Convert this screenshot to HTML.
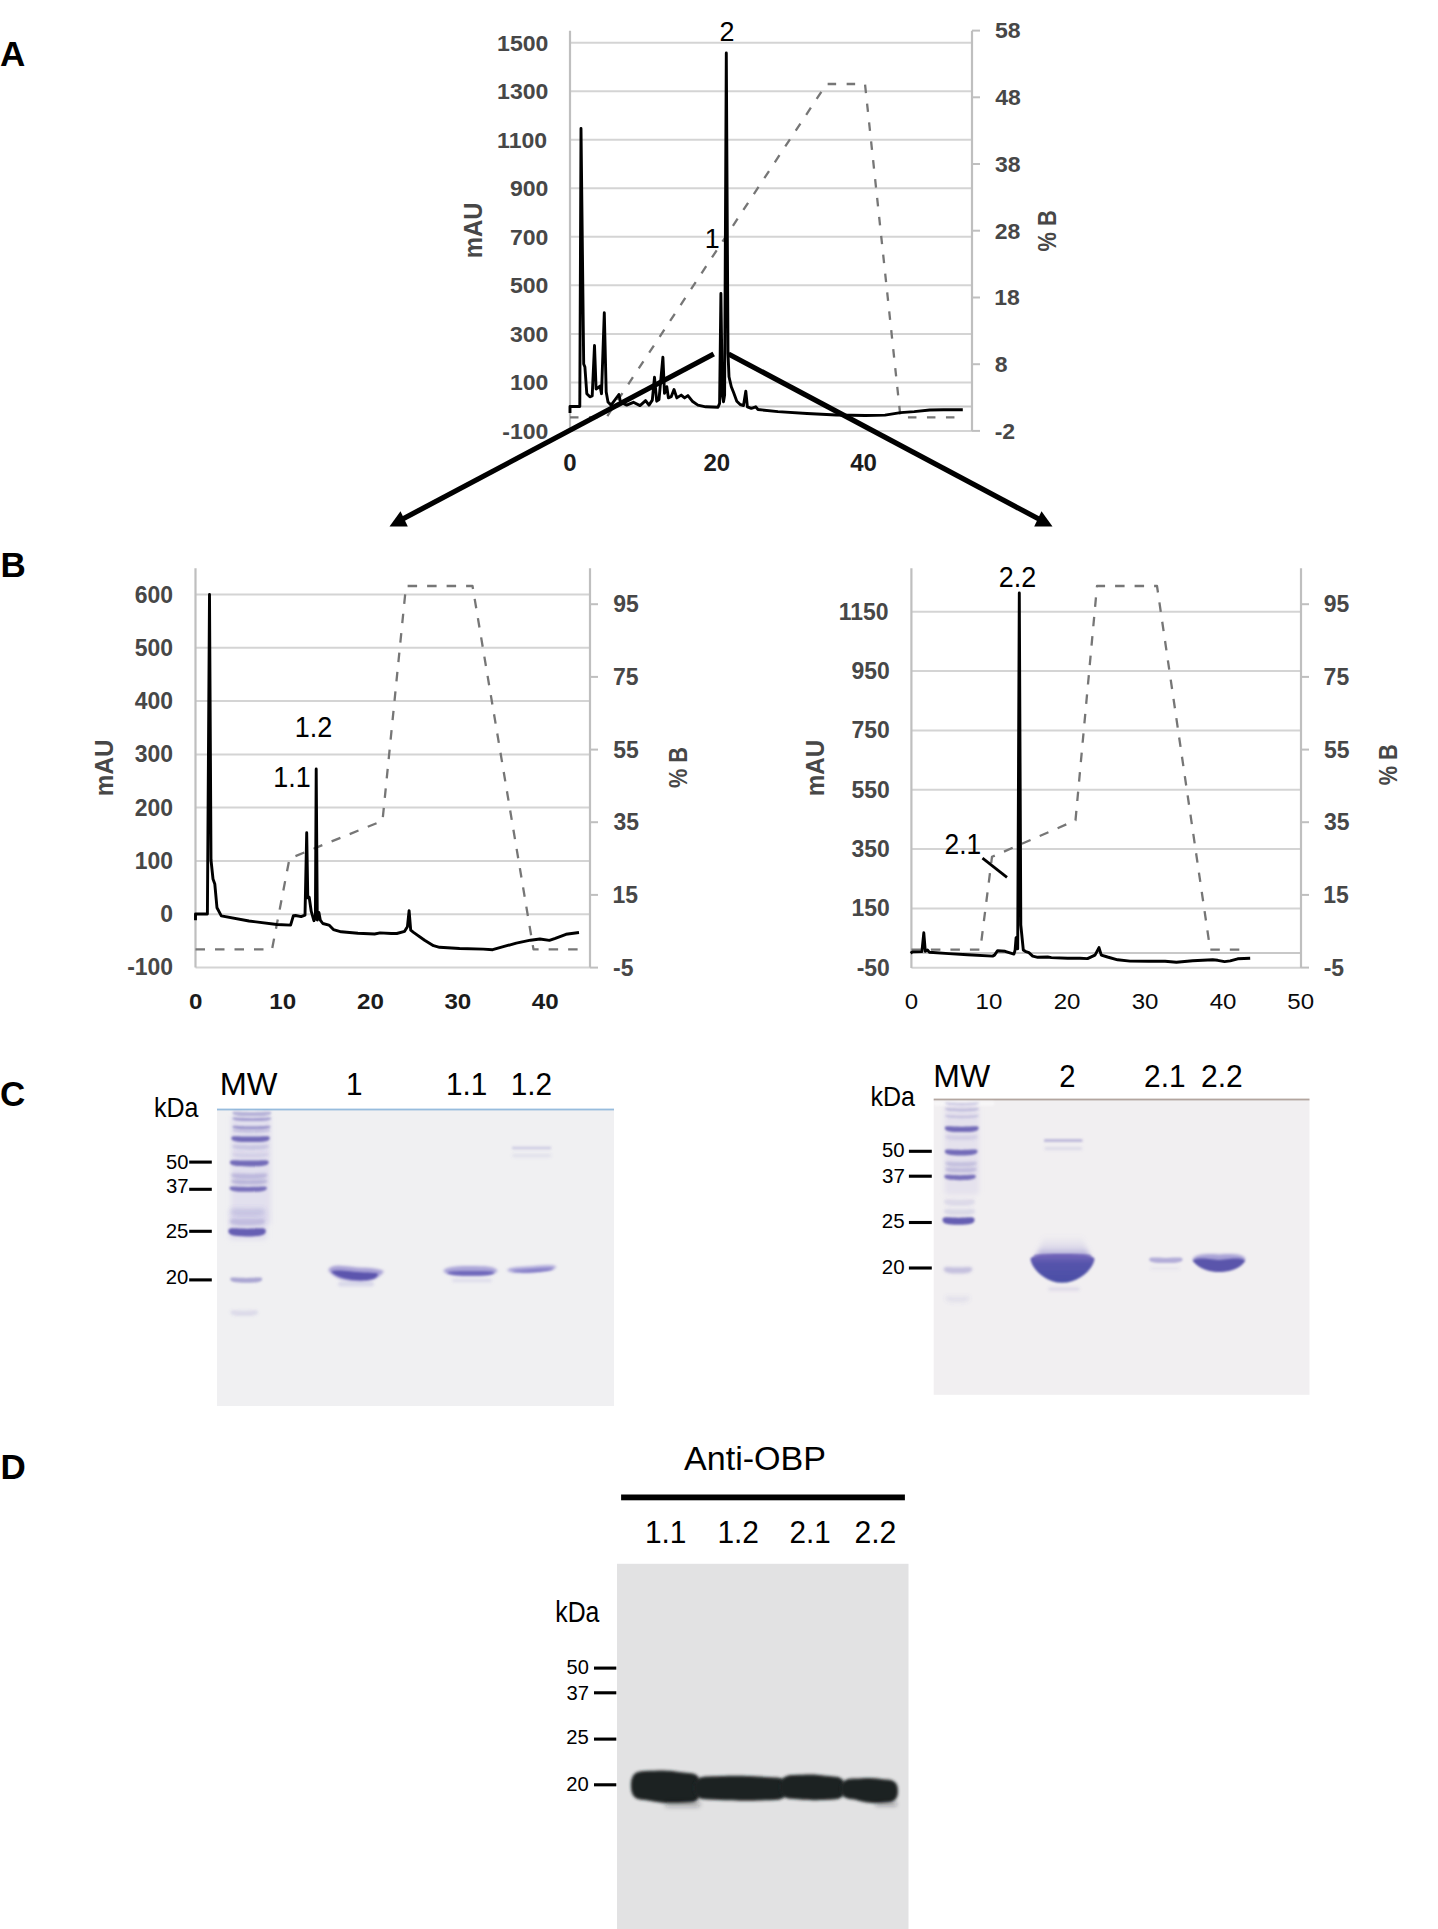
<!DOCTYPE html><html><head><meta charset="utf-8"><style>html,body{margin:0;padding:0;background:#fff;}body{width:1438px;height:1929px;overflow:hidden}svg{display:block}text{font-family:"Liberation Sans",sans-serif}</style></head><body>
<svg width="1438" height="1929" viewBox="0 0 1438 1929">
<defs><filter id="b1" x="-50%" y="-50%" width="200%" height="200%"><feGaussianBlur stdDeviation="1"/></filter><filter id="b2" x="-50%" y="-50%" width="200%" height="200%"><feGaussianBlur stdDeviation="2"/></filter><filter id="b3" x="-50%" y="-50%" width="200%" height="200%"><feGaussianBlur stdDeviation="3"/></filter><filter id="b4" x="-50%" y="-50%" width="200%" height="200%"><feGaussianBlur stdDeviation="4"/></filter></defs>
<rect width="1438" height="1929" fill="#fff"/>
<defs><filter id="g1" x="-50%" y="-600%" width="200%" height="1300%"><feGaussianBlur stdDeviation="0.1"/></filter><filter id="g2" x="-50%" y="-600%" width="200%" height="1300%"><feGaussianBlur stdDeviation="0.2"/></filter><filter id="g3" x="-50%" y="-600%" width="200%" height="1300%"><feGaussianBlur stdDeviation="0.3"/></filter><filter id="g4" x="-50%" y="-600%" width="200%" height="1300%"><feGaussianBlur stdDeviation="0.4"/></filter><filter id="g5" x="-50%" y="-600%" width="200%" height="1300%"><feGaussianBlur stdDeviation="0.5"/></filter><filter id="g6" x="-50%" y="-600%" width="200%" height="1300%"><feGaussianBlur stdDeviation="0.6"/></filter><filter id="g7" x="-50%" y="-600%" width="200%" height="1300%"><feGaussianBlur stdDeviation="0.7"/></filter><filter id="g8" x="-50%" y="-600%" width="200%" height="1300%"><feGaussianBlur stdDeviation="0.8"/></filter><filter id="g9" x="-50%" y="-600%" width="200%" height="1300%"><feGaussianBlur stdDeviation="0.9"/></filter><filter id="g10" x="-50%" y="-600%" width="200%" height="1300%"><feGaussianBlur stdDeviation="1.0"/></filter><filter id="g11" x="-50%" y="-600%" width="200%" height="1300%"><feGaussianBlur stdDeviation="1.1"/></filter><filter id="g12" x="-50%" y="-600%" width="200%" height="1300%"><feGaussianBlur stdDeviation="1.2"/></filter><filter id="g13" x="-50%" y="-600%" width="200%" height="1300%"><feGaussianBlur stdDeviation="1.3"/></filter><filter id="g14" x="-50%" y="-600%" width="200%" height="1300%"><feGaussianBlur stdDeviation="1.4"/></filter><filter id="g15" x="-50%" y="-600%" width="200%" height="1300%"><feGaussianBlur stdDeviation="1.5"/></filter><filter id="g16" x="-50%" y="-600%" width="200%" height="1300%"><feGaussianBlur stdDeviation="1.6"/></filter><filter id="g17" x="-50%" y="-600%" width="200%" height="1300%"><feGaussianBlur stdDeviation="1.7"/></filter><filter id="g18" x="-50%" y="-600%" width="200%" height="1300%"><feGaussianBlur stdDeviation="1.8"/></filter><filter id="g19" x="-50%" y="-600%" width="200%" height="1300%"><feGaussianBlur stdDeviation="1.9"/></filter><filter id="g20" x="-50%" y="-600%" width="200%" height="1300%"><feGaussianBlur stdDeviation="2.0"/></filter><filter id="g21" x="-50%" y="-600%" width="200%" height="1300%"><feGaussianBlur stdDeviation="2.1"/></filter><filter id="g22" x="-50%" y="-600%" width="200%" height="1300%"><feGaussianBlur stdDeviation="2.2"/></filter><filter id="g23" x="-50%" y="-600%" width="200%" height="1300%"><feGaussianBlur stdDeviation="2.3"/></filter><filter id="g24" x="-50%" y="-600%" width="200%" height="1300%"><feGaussianBlur stdDeviation="2.4"/></filter><filter id="g25" x="-50%" y="-600%" width="200%" height="1300%"><feGaussianBlur stdDeviation="2.5"/></filter><filter id="g26" x="-50%" y="-600%" width="200%" height="1300%"><feGaussianBlur stdDeviation="2.6"/></filter><filter id="g27" x="-50%" y="-600%" width="200%" height="1300%"><feGaussianBlur stdDeviation="2.7"/></filter><filter id="g28" x="-50%" y="-600%" width="200%" height="1300%"><feGaussianBlur stdDeviation="2.8"/></filter><filter id="g29" x="-50%" y="-600%" width="200%" height="1300%"><feGaussianBlur stdDeviation="2.9"/></filter><filter id="g30" x="-50%" y="-600%" width="200%" height="1300%"><feGaussianBlur stdDeviation="3.0"/></filter><filter id="g31" x="-50%" y="-600%" width="200%" height="1300%"><feGaussianBlur stdDeviation="3.1"/></filter><filter id="g32" x="-50%" y="-600%" width="200%" height="1300%"><feGaussianBlur stdDeviation="3.2"/></filter><filter id="g33" x="-50%" y="-600%" width="200%" height="1300%"><feGaussianBlur stdDeviation="3.3"/></filter><filter id="g34" x="-50%" y="-600%" width="200%" height="1300%"><feGaussianBlur stdDeviation="3.4"/></filter><filter id="g35" x="-50%" y="-600%" width="200%" height="1300%"><feGaussianBlur stdDeviation="3.5"/></filter><filter id="g36" x="-50%" y="-600%" width="200%" height="1300%"><feGaussianBlur stdDeviation="3.6"/></filter><filter id="g37" x="-50%" y="-600%" width="200%" height="1300%"><feGaussianBlur stdDeviation="3.7"/></filter><filter id="g38" x="-50%" y="-600%" width="200%" height="1300%"><feGaussianBlur stdDeviation="3.8"/></filter><filter id="g39" x="-50%" y="-600%" width="200%" height="1300%"><feGaussianBlur stdDeviation="3.9"/></filter><filter id="g40" x="-50%" y="-600%" width="200%" height="1300%"><feGaussianBlur stdDeviation="4.0"/></filter><filter id="g41" x="-50%" y="-600%" width="200%" height="1300%"><feGaussianBlur stdDeviation="4.1"/></filter><filter id="g42" x="-50%" y="-600%" width="200%" height="1300%"><feGaussianBlur stdDeviation="4.2"/></filter><filter id="g43" x="-50%" y="-600%" width="200%" height="1300%"><feGaussianBlur stdDeviation="4.3"/></filter><filter id="g44" x="-50%" y="-600%" width="200%" height="1300%"><feGaussianBlur stdDeviation="4.4"/></filter><filter id="g45" x="-50%" y="-600%" width="200%" height="1300%"><feGaussianBlur stdDeviation="4.5"/></filter><filter id="g46" x="-50%" y="-600%" width="200%" height="1300%"><feGaussianBlur stdDeviation="4.6"/></filter><filter id="g47" x="-50%" y="-600%" width="200%" height="1300%"><feGaussianBlur stdDeviation="4.7"/></filter><filter id="g48" x="-50%" y="-600%" width="200%" height="1300%"><feGaussianBlur stdDeviation="4.8"/></filter><filter id="g49" x="-50%" y="-600%" width="200%" height="1300%"><feGaussianBlur stdDeviation="4.9"/></filter><filter id="g50" x="-50%" y="-600%" width="200%" height="1300%"><feGaussianBlur stdDeviation="5.0"/></filter><filter id="g51" x="-50%" y="-600%" width="200%" height="1300%"><feGaussianBlur stdDeviation="5.1"/></filter><filter id="g52" x="-50%" y="-600%" width="200%" height="1300%"><feGaussianBlur stdDeviation="5.2"/></filter><filter id="g53" x="-50%" y="-600%" width="200%" height="1300%"><feGaussianBlur stdDeviation="5.3"/></filter><filter id="g54" x="-50%" y="-600%" width="200%" height="1300%"><feGaussianBlur stdDeviation="5.4"/></filter><filter id="g55" x="-50%" y="-600%" width="200%" height="1300%"><feGaussianBlur stdDeviation="5.5"/></filter><filter id="g56" x="-50%" y="-600%" width="200%" height="1300%"><feGaussianBlur stdDeviation="5.6"/></filter><filter id="g57" x="-50%" y="-600%" width="200%" height="1300%"><feGaussianBlur stdDeviation="5.7"/></filter><filter id="g58" x="-50%" y="-600%" width="200%" height="1300%"><feGaussianBlur stdDeviation="5.8"/></filter><filter id="g59" x="-50%" y="-600%" width="200%" height="1300%"><feGaussianBlur stdDeviation="5.9"/></filter><filter id="g60" x="-50%" y="-600%" width="200%" height="1300%"><feGaussianBlur stdDeviation="6.0"/></filter></defs>
<text x="0.0" y="65.7" font-size="35" fill="#000" font-weight="bold">A</text>
<text x="0.5" y="577.1" font-size="35" fill="#000" font-weight="bold">B</text>
<text x="0.0" y="1106.2" font-size="35" fill="#000" font-weight="bold">C</text>
<text x="0.5" y="1479.0" font-size="35" fill="#000" font-weight="bold">D</text>
<line x1="570.0" y1="42.7" x2="972.0" y2="42.7" stroke="#d4d4d4" stroke-width="2"/>
<line x1="570.0" y1="91.3" x2="972.0" y2="91.3" stroke="#d4d4d4" stroke-width="2"/>
<line x1="570.0" y1="139.8" x2="972.0" y2="139.8" stroke="#d4d4d4" stroke-width="2"/>
<line x1="570.0" y1="188.3" x2="972.0" y2="188.3" stroke="#d4d4d4" stroke-width="2"/>
<line x1="570.0" y1="236.8" x2="972.0" y2="236.8" stroke="#d4d4d4" stroke-width="2"/>
<line x1="570.0" y1="285.3" x2="972.0" y2="285.3" stroke="#d4d4d4" stroke-width="2"/>
<line x1="570.0" y1="333.9" x2="972.0" y2="333.9" stroke="#d4d4d4" stroke-width="2"/>
<line x1="570.0" y1="382.4" x2="972.0" y2="382.4" stroke="#d4d4d4" stroke-width="2"/>
<line x1="570.0" y1="430.9" x2="972.0" y2="430.9" stroke="#d4d4d4" stroke-width="2"/>
<line x1="570.0" y1="406.6" x2="972.0" y2="406.6" stroke="#c8c8c8" stroke-width="2"/>
<line x1="570.0" y1="30.8" x2="570.0" y2="431.0" stroke="#bfbfbf" stroke-width="2.2"/>
<line x1="972.0" y1="30.8" x2="972.0" y2="431.0" stroke="#bfbfbf" stroke-width="2.2"/>
<line x1="972.0" y1="30.6" x2="980.0" y2="30.6" stroke="#bfbfbf" stroke-width="2"/>
<line x1="972.0" y1="97.3" x2="980.0" y2="97.3" stroke="#bfbfbf" stroke-width="2"/>
<line x1="972.0" y1="164.0" x2="980.0" y2="164.0" stroke="#bfbfbf" stroke-width="2"/>
<line x1="972.0" y1="230.7" x2="980.0" y2="230.7" stroke="#bfbfbf" stroke-width="2"/>
<line x1="972.0" y1="297.5" x2="980.0" y2="297.5" stroke="#bfbfbf" stroke-width="2"/>
<line x1="972.0" y1="364.2" x2="980.0" y2="364.2" stroke="#bfbfbf" stroke-width="2"/>
<line x1="972.0" y1="430.9" x2="980.0" y2="430.9" stroke="#bfbfbf" stroke-width="2"/>
<text transform="translate(497.12,50.58) scale(1.0100,1)" font-size="22.8" fill="#474747" font-weight="bold">1500</text>
<text transform="translate(497.12,99.10) scale(1.0100,1)" font-size="22.8" fill="#474747" font-weight="bold">1300</text>
<text transform="translate(497.12,147.62) scale(1.0100,1)" font-size="22.8" fill="#474747" font-weight="bold">1100</text>
<text transform="translate(509.92,196.14) scale(1.0100,1)" font-size="22.8" fill="#474747" font-weight="bold">900</text>
<text transform="translate(509.92,244.66) scale(1.0100,1)" font-size="22.8" fill="#474747" font-weight="bold">700</text>
<text transform="translate(509.92,293.18) scale(1.0100,1)" font-size="22.8" fill="#474747" font-weight="bold">500</text>
<text transform="translate(509.92,341.70) scale(1.0100,1)" font-size="22.8" fill="#474747" font-weight="bold">300</text>
<text transform="translate(509.92,390.22) scale(1.0100,1)" font-size="22.8" fill="#474747" font-weight="bold">100</text>
<text transform="translate(502.25,438.74) scale(1.0100,1)" font-size="22.8" fill="#474747" font-weight="bold">-100</text>
<text transform="translate(994.89,38.42) scale(1.0100,1)" font-size="22.8" fill="#474747" font-weight="bold">58</text>
<text transform="translate(995.25,105.14) scale(1.0100,1)" font-size="22.8" fill="#474747" font-weight="bold">48</text>
<text transform="translate(995.07,171.86) scale(1.0100,1)" font-size="22.8" fill="#474747" font-weight="bold">38</text>
<text transform="translate(994.80,238.58) scale(1.0100,1)" font-size="22.8" fill="#474747" font-weight="bold">28</text>
<text transform="translate(994.15,305.30) scale(1.0100,1)" font-size="22.8" fill="#474747" font-weight="bold">18</text>
<text transform="translate(994.87,372.02) scale(1.0100,1)" font-size="22.8" fill="#474747" font-weight="bold">8</text>
<text transform="translate(994.70,438.74) scale(1.0100,1)" font-size="22.8" fill="#474747" font-weight="bold">-2</text>
<text transform="translate(563.33,471.31) scale(1.0450,1)" font-size="23.0" fill="#1c1c1c" font-weight="bold">0</text>
<text transform="translate(703.51,471.31) scale(1.0450,1)" font-size="23.0" fill="#1c1c1c" font-weight="bold">20</text>
<text transform="translate(850.14,471.31) scale(1.0450,1)" font-size="23.0" fill="#1c1c1c" font-weight="bold">40</text>
<text transform="translate(482.40,258.28) rotate(-90) scale(0.9347,1)" font-size="25.6" fill="#474747" font-weight="bold">mAU</text>
<text transform="translate(1055.90,251.44) rotate(-90) scale(0.8548,1)" font-size="25.6" fill="#474747" font-weight="bold">% B</text>
<polyline points="570.0,417.3 606.5,417.3 826.5,84.0 865.0,84.0 900.5,417.3 962.8,417.3" fill="none" stroke="#767676" stroke-width="2.3" stroke-linejoin="round" stroke-dasharray="8.5 10.5"/>
<polyline points="570.0,413.0 570.0,406.5 579.8,406.5 581.0,128.5 583.7,364.0 584.9,367.0 586.8,393.7 589.9,396.8 592.2,396.0 594.5,345.5 596.1,389.0 598.4,387.5 600.0,386.0 601.5,393.7 604.3,312.8 606.2,392.0 608.0,402.0 611.1,405.1 618.9,394.5 620.6,402.3 626.7,405.1 633.4,402.3 640.0,405.6 645.6,400.6 649.0,405.1 652.3,400.1 654.5,377.3 656.7,401.2 659.0,399.5 662.9,357.2 664.5,393.4 666.8,386.7 668.4,397.9 671.2,396.7 674.0,389.5 676.8,397.9 681.2,395.1 684.6,397.9 687.9,395.6 692.3,401.2 697.9,405.1 705.7,406.8 718.0,407.3 719.6,403.4 720.9,293.5 722.3,395.0 723.5,401.8 724.6,395.0 726.3,53.0 728.0,353.4 729.0,376.7 731.3,386.7 733.5,392.3 736.8,401.2 740.2,404.5 743.5,405.6 745.8,391.2 747.4,406.8 751.3,408.4 755.8,406.8 758.0,409.5 777.9,411.6 807.0,413.5 836.3,415.0 865.5,415.5 885.0,415.1 900.5,412.6 914.2,411.6 929.7,410.0 943.4,409.7 962.8,409.7" fill="none" stroke="#000" stroke-width="2.9" stroke-linejoin="round"/>
<text transform="translate(719.54,41.10) scale(0.9643,1)" font-size="28" fill="#000">2</text>
<text transform="translate(704.65,247.50) scale(0.9609,1)" font-size="28" fill="#000">1</text>
<line x1="713.7" y1="354.0" x2="398.0" y2="521.5" stroke="#000" stroke-width="5.2"/>
<polygon points="389.5,526.5 400.5,511.2 407.8,526.5" fill="#000"/>
<line x1="728.5" y1="354.0" x2="1043.5" y2="521.5" stroke="#000" stroke-width="5.2"/>
<polygon points="1052.5,526.5 1041.5,511.2 1034.2,526.5" fill="#000"/>
<line x1="195.5" y1="594.5" x2="590.0" y2="594.5" stroke="#d4d4d4" stroke-width="2"/>
<line x1="195.5" y1="647.8" x2="590.0" y2="647.8" stroke="#d4d4d4" stroke-width="2"/>
<line x1="195.5" y1="701.1" x2="590.0" y2="701.1" stroke="#d4d4d4" stroke-width="2"/>
<line x1="195.5" y1="754.4" x2="590.0" y2="754.4" stroke="#d4d4d4" stroke-width="2"/>
<line x1="195.5" y1="807.6" x2="590.0" y2="807.6" stroke="#d4d4d4" stroke-width="2"/>
<line x1="195.5" y1="860.9" x2="590.0" y2="860.9" stroke="#d4d4d4" stroke-width="2"/>
<line x1="195.5" y1="914.2" x2="590.0" y2="914.2" stroke="#d4d4d4" stroke-width="2"/>
<line x1="195.5" y1="967.5" x2="590.0" y2="967.5" stroke="#d4d4d4" stroke-width="2"/>
<line x1="195.5" y1="568.3" x2="195.5" y2="967.6" stroke="#bfbfbf" stroke-width="2.2"/>
<line x1="590.0" y1="568.3" x2="590.0" y2="967.6" stroke="#bfbfbf" stroke-width="2.2"/>
<line x1="590.0" y1="604.2" x2="598.0" y2="604.2" stroke="#bfbfbf" stroke-width="2"/>
<line x1="590.0" y1="676.9" x2="598.0" y2="676.9" stroke="#bfbfbf" stroke-width="2"/>
<line x1="590.0" y1="749.6" x2="598.0" y2="749.6" stroke="#bfbfbf" stroke-width="2"/>
<line x1="590.0" y1="822.2" x2="598.0" y2="822.2" stroke="#bfbfbf" stroke-width="2"/>
<line x1="590.0" y1="894.9" x2="598.0" y2="894.9" stroke="#bfbfbf" stroke-width="2"/>
<line x1="590.0" y1="967.6" x2="598.0" y2="967.6" stroke="#bfbfbf" stroke-width="2"/>
<text transform="translate(134.82,602.50) scale(0.9900,1)" font-size="23.2" fill="#474747" font-weight="bold">600</text>
<text transform="translate(134.82,655.78) scale(0.9900,1)" font-size="23.2" fill="#474747" font-weight="bold">500</text>
<text transform="translate(134.82,709.06) scale(0.9900,1)" font-size="23.2" fill="#474747" font-weight="bold">400</text>
<text transform="translate(134.82,762.34) scale(0.9900,1)" font-size="23.2" fill="#474747" font-weight="bold">300</text>
<text transform="translate(134.82,815.62) scale(0.9900,1)" font-size="23.2" fill="#474747" font-weight="bold">200</text>
<text transform="translate(134.82,868.90) scale(0.9900,1)" font-size="23.2" fill="#474747" font-weight="bold">100</text>
<text transform="translate(160.37,922.18) scale(0.9900,1)" font-size="23.2" fill="#474747" font-weight="bold">0</text>
<text transform="translate(127.17,975.46) scale(0.9900,1)" font-size="23.2" fill="#474747" font-weight="bold">-100</text>
<text transform="translate(613.20,612.18) scale(0.9900,1)" font-size="23.2" fill="#474747" font-weight="bold">95</text>
<text transform="translate(613.01,684.86) scale(0.9900,1)" font-size="23.2" fill="#474747" font-weight="bold">75</text>
<text transform="translate(613.29,757.54) scale(0.9900,1)" font-size="23.2" fill="#474747" font-weight="bold">55</text>
<text transform="translate(613.47,830.22) scale(0.9900,1)" font-size="23.2" fill="#474747" font-weight="bold">35</text>
<text transform="translate(612.55,902.90) scale(0.9900,1)" font-size="23.2" fill="#474747" font-weight="bold">15</text>
<text transform="translate(613.10,975.58) scale(0.9900,1)" font-size="23.2" fill="#474747" font-weight="bold">-5</text>
<text transform="translate(189.00,1008.74) scale(1.0600,1)" font-size="22.8" fill="#1c1c1c" font-weight="bold">0</text>
<text transform="translate(269.29,1008.74) scale(1.0600,1)" font-size="22.8" fill="#1c1c1c" font-weight="bold">10</text>
<text transform="translate(356.94,1008.74) scale(1.0600,1)" font-size="22.8" fill="#1c1c1c" font-weight="bold">20</text>
<text transform="translate(444.38,1008.74) scale(1.0600,1)" font-size="22.8" fill="#1c1c1c" font-weight="bold">30</text>
<text transform="translate(531.77,1008.74) scale(1.0600,1)" font-size="22.8" fill="#1c1c1c" font-weight="bold">40</text>
<text transform="translate(113.20,796.20) rotate(-90) scale(0.9639,1)" font-size="25.2" fill="#474747" font-weight="bold">mAU</text>
<text transform="translate(686.70,788.04) rotate(-90) scale(0.8618,1)" font-size="25.2" fill="#474747" font-weight="bold">% B</text>
<polyline points="195.5,949.4 272.0,949.4 289.5,858.5 382.5,820.8 406.0,586.0 472.5,586.0 533.5,949.4 579.5,949.4" fill="none" stroke="#767676" stroke-width="2.3" stroke-linejoin="round" stroke-dasharray="9.5 10"/>
<polyline points="195.5,920.3 195.5,914.0 207.4,914.0 209.5,594.5 211.0,860.0 213.0,879.0 214.8,884.0 217.0,907.8 221.3,915.9 249.0,921.0 276.9,924.5 290.6,925.1 293.4,915.7 295.6,915.5 301.1,916.6 305.0,915.1 306.7,832.8 307.8,897.9 309.2,897.3 311.2,911.2 313.9,920.7 315.4,917.9 316.2,769.0 317.3,920.1 318.9,912.4 320.3,920.1 322.8,923.5 329.0,925.1 333.4,929.6 341.2,931.8 357.9,933.3 374.6,934.0 380.1,932.9 391.3,933.5 396.8,933.5 404.6,931.3 407.4,926.8 409.1,910.7 410.7,930.2 413.5,932.4 424.6,940.2 433.5,945.7 439.5,947.3 459.6,948.5 483.2,949.1 492.7,949.7 503.3,946.7 516.3,943.1 530.5,940.2 539.9,939.0 549.4,940.4 555.3,938.4 566.0,934.3 579.0,932.5" fill="none" stroke="#000" stroke-width="2.9" stroke-linejoin="round"/>
<text transform="translate(294.84,736.60) scale(0.9435,1)" font-size="28.6" fill="#000">1.2</text>
<text transform="translate(273.25,787.30) scale(0.9424,1)" font-size="28.6" fill="#000">1.1</text>
<line x1="911.4" y1="611.8" x2="1301.0" y2="611.8" stroke="#d4d4d4" stroke-width="2"/>
<line x1="911.4" y1="671.1" x2="1301.0" y2="671.1" stroke="#d4d4d4" stroke-width="2"/>
<line x1="911.4" y1="730.4" x2="1301.0" y2="730.4" stroke="#d4d4d4" stroke-width="2"/>
<line x1="911.4" y1="789.7" x2="1301.0" y2="789.7" stroke="#d4d4d4" stroke-width="2"/>
<line x1="911.4" y1="849.1" x2="1301.0" y2="849.1" stroke="#d4d4d4" stroke-width="2"/>
<line x1="911.4" y1="908.4" x2="1301.0" y2="908.4" stroke="#d4d4d4" stroke-width="2"/>
<line x1="911.4" y1="967.7" x2="1301.0" y2="967.7" stroke="#d4d4d4" stroke-width="2"/>
<line x1="911.4" y1="952.9" x2="1301.0" y2="952.9" stroke="#c8c8c8" stroke-width="2"/>
<line x1="911.4" y1="568.3" x2="911.4" y2="967.9" stroke="#bfbfbf" stroke-width="2.2"/>
<line x1="1301.0" y1="568.3" x2="1301.0" y2="967.9" stroke="#bfbfbf" stroke-width="2.2"/>
<line x1="1301.0" y1="604.2" x2="1309.0" y2="604.2" stroke="#bfbfbf" stroke-width="2"/>
<line x1="1301.0" y1="676.9" x2="1309.0" y2="676.9" stroke="#bfbfbf" stroke-width="2"/>
<line x1="1301.0" y1="749.6" x2="1309.0" y2="749.6" stroke="#bfbfbf" stroke-width="2"/>
<line x1="1301.0" y1="822.2" x2="1309.0" y2="822.2" stroke="#bfbfbf" stroke-width="2"/>
<line x1="1301.0" y1="894.9" x2="1309.0" y2="894.9" stroke="#bfbfbf" stroke-width="2"/>
<line x1="1301.0" y1="967.6" x2="1309.0" y2="967.6" stroke="#bfbfbf" stroke-width="2"/>
<text transform="translate(838.75,619.73) scale(0.9900,1)" font-size="23.2" fill="#474747" font-weight="bold">1150</text>
<text transform="translate(851.52,679.06) scale(0.9900,1)" font-size="23.2" fill="#474747" font-weight="bold">950</text>
<text transform="translate(851.52,738.39) scale(0.9900,1)" font-size="23.2" fill="#474747" font-weight="bold">750</text>
<text transform="translate(851.52,797.72) scale(0.9900,1)" font-size="23.2" fill="#474747" font-weight="bold">550</text>
<text transform="translate(851.52,857.05) scale(0.9900,1)" font-size="23.2" fill="#474747" font-weight="bold">350</text>
<text transform="translate(851.52,916.38) scale(0.9900,1)" font-size="23.2" fill="#474747" font-weight="bold">150</text>
<text transform="translate(856.65,975.71) scale(0.9900,1)" font-size="23.2" fill="#474747" font-weight="bold">-50</text>
<text transform="translate(1323.80,612.18) scale(0.9900,1)" font-size="23.2" fill="#474747" font-weight="bold">95</text>
<text transform="translate(1323.61,684.86) scale(0.9900,1)" font-size="23.2" fill="#474747" font-weight="bold">75</text>
<text transform="translate(1323.89,757.54) scale(0.9900,1)" font-size="23.2" fill="#474747" font-weight="bold">55</text>
<text transform="translate(1324.07,830.22) scale(0.9900,1)" font-size="23.2" fill="#474747" font-weight="bold">35</text>
<text transform="translate(1323.15,902.90) scale(0.9900,1)" font-size="23.2" fill="#474747" font-weight="bold">15</text>
<text transform="translate(1323.70,975.58) scale(0.9900,1)" font-size="23.2" fill="#474747" font-weight="bold">-5</text>
<text transform="translate(904.81,1008.74) scale(1.0550,1)" font-size="22.8" fill="#0a0a0a">0</text>
<text transform="translate(975.52,1008.74) scale(1.0550,1)" font-size="22.8" fill="#0a0a0a">10</text>
<text transform="translate(1053.67,1008.74) scale(1.0550,1)" font-size="22.8" fill="#0a0a0a">20</text>
<text transform="translate(1131.65,1008.74) scale(1.0550,1)" font-size="22.8" fill="#0a0a0a">30</text>
<text transform="translate(1209.68,1008.74) scale(1.0550,1)" font-size="22.8" fill="#0a0a0a">40</text>
<text transform="translate(1287.31,1008.74) scale(1.0550,1)" font-size="22.8" fill="#0a0a0a">50</text>
<text transform="translate(823.90,796.30) rotate(-90) scale(0.9471,1)" font-size="25.6" fill="#474747" font-weight="bold">mAU</text>
<text transform="translate(1397.20,785.34) rotate(-90) scale(0.8662,1)" font-size="25.2" fill="#474747" font-weight="bold">% B</text>
<polyline points="911.4,949.6 980.3,949.6 992.0,856.8 1075.5,820.4 1097.0,586.0 1157.0,586.0 1210.2,949.6 1247.7,949.6" fill="none" stroke="#767676" stroke-width="2.3" stroke-linejoin="round" stroke-dasharray="9.5 10"/>
<polyline points="910.6,953.2 912.5,951.9 921.9,951.6 923.8,932.8 925.3,951.3 927.5,950.0 929.4,952.3 948.8,953.6 967.6,954.8 992.6,956.1 994.5,955.1 997.6,950.7 1005.1,951.3 1013.9,954.1 1015.1,950.1 1016.1,937.6 1017.7,948.8 1019.3,593.0 1020.8,925.0 1023.3,950.0 1025.2,951.3 1028.9,952.6 1032.7,956.1 1037.7,957.3 1047.7,957.0 1051.4,957.6 1067.7,958.2 1080.0,958.2 1087.5,958.6 1095.0,955.1 1099.0,947.6 1101.3,955.1 1107.5,957.0 1117.6,959.8 1130.0,961.1 1148.8,961.3 1165.1,961.3 1176.4,962.2 1192.7,960.7 1212.7,959.8 1217.7,960.3 1224.6,961.6 1230.2,960.9 1237.7,958.8 1250.2,958.2" fill="none" stroke="#000" stroke-width="2.9" stroke-linejoin="round"/>
<text transform="translate(998.75,587.10) scale(0.9409,1)" font-size="28.6" fill="#000">2.2</text>
<text transform="translate(944.58,853.70) scale(0.9208,1)" font-size="28.6" fill="#000">2.1</text>
<line x1="982.5" y1="858.2" x2="1007.0" y2="877.3" stroke="#000" stroke-width="2.8"/>
<defs><linearGradient id="bgr" x1="0" y1="0" x2="0" y2="1"><stop offset="0" stop-color="#8b84c9"/><stop offset="0.45" stop-color="#6a63b9"/><stop offset="1" stop-color="#514cab"/></linearGradient><linearGradient id="bgr2" x1="0" y1="0" x2="0" y2="1"><stop offset="0" stop-color="#7467ba"/><stop offset="0.35" stop-color="#5553ab"/><stop offset="1" stop-color="#4a4fa6"/></linearGradient><linearGradient id="smear" x1="0" y1="0" x2="0" y2="1"><stop offset="0" stop-color="#8a84cc" stop-opacity="0"/><stop offset="0.55" stop-color="#8a84cc" stop-opacity="0.18"/><stop offset="1" stop-color="#7a72c2" stop-opacity="0.7"/></linearGradient></defs>
<rect x="217" y="1109.5" width="397" height="296.5" fill="#f0f0f2"/>
<rect x="217" y="1108.6" width="397" height="1.8" fill="#86b2d8" opacity="0.85"/>
<rect x="231.0" y="1115.0" width="40.0" height="110.0" rx="4.0" fill="#c9c4e6" fill-opacity="0.35" filter="url(#g25)"/>
<rect x="229.0" y="1210.0" width="38.0" height="30.0" rx="4.0" fill="#c9c4e6" fill-opacity="0.35" filter="url(#g25)"/>
<path d="M232.4,1112.7 C232.4,1110.7 236.4,1111.7 251.9,1112.0 C267.3,1111.7 271.3,1110.7 271.3,1112.7 C271.3,1115.4 266.3,1116.3 251.9,1116.3 C237.4,1116.3 232.4,1115.4 232.4,1112.7 Z" fill="#665eb3" fill-opacity="0.4" filter="url(#g12)"/>
<path d="M232.4,1118.2 C232.4,1116.9 236.4,1117.9 251.9,1118.2 C267.3,1117.9 271.3,1116.9 271.3,1118.2 C271.3,1120.2 266.3,1121.1 251.9,1121.1 C237.4,1121.1 232.4,1120.2 232.4,1118.2 Z" fill="#665eb3" fill-opacity="0.5" filter="url(#g10)"/>
<path d="M232.4,1126.5 C232.4,1125.0 236.4,1126.0 251.4,1126.3 C266.5,1126.0 270.5,1125.0 270.5,1126.5 C270.5,1128.7 265.5,1129.6 251.4,1129.6 C237.4,1129.6 232.4,1128.7 232.4,1126.5 Z" fill="#665eb3" fill-opacity="0.55" filter="url(#g10)"/>
<path d="M232.4,1130.0 C232.4,1128.9 236.4,1129.9 251.4,1130.2 C266.5,1129.9 270.5,1128.9 270.5,1130.0 C270.5,1131.8 265.5,1132.7 251.4,1132.7 C237.4,1132.7 232.4,1131.8 232.4,1130.0 Z" fill="#665eb3" fill-opacity="0.25" filter="url(#g10)"/>
<path d="M231.3,1137.9 C231.3,1135.3 235.3,1136.3 250.6,1136.6 C265.8,1136.3 269.8,1135.3 269.8,1137.9 C269.8,1141.2 264.8,1142.1 250.6,1142.1 C236.3,1142.1 231.3,1141.2 231.3,1137.9 Z" fill="#665eb3" fill-opacity="0.9" filter="url(#g11)"/>
<path d="M232.0,1146.1 C232.0,1144.1 236.0,1145.1 250.5,1145.4 C265.0,1145.1 269.0,1144.1 269.0,1146.1 C269.0,1148.8 264.0,1149.7 250.5,1149.7 C237.0,1149.7 232.0,1148.8 232.0,1146.1 Z" fill="#665eb3" fill-opacity="0.22" filter="url(#g14)"/>
<path d="M232.0,1154.0 C232.0,1152.0 236.0,1153.0 250.5,1153.3 C265.0,1153.0 269.0,1152.0 269.0,1154.0 C269.0,1156.7 264.0,1157.6 250.5,1157.6 C237.0,1157.6 232.0,1156.7 232.0,1154.0 Z" fill="#665eb3" fill-opacity="0.12" filter="url(#g14)"/>
<path d="M229.9,1162.1 C229.9,1159.3 233.9,1160.3 249.3,1160.6 C264.7,1160.3 268.7,1159.3 268.7,1162.1 C268.7,1165.6 263.7,1166.5 249.3,1166.5 C234.9,1166.5 229.9,1165.6 229.9,1162.1 Z" fill="#665eb3" fill-opacity="0.9" filter="url(#g11)"/>
<path d="M231.0,1175.0 C231.0,1172.5 235.0,1173.5 249.2,1173.8 C263.5,1173.5 267.5,1172.5 267.5,1175.0 C267.5,1178.2 262.5,1179.1 249.2,1179.1 C236.0,1179.1 231.0,1178.2 231.0,1175.0 Z" fill="#665eb3" fill-opacity="0.3" filter="url(#g16)"/>
<path d="M231.0,1181.0 C231.0,1179.0 235.0,1180.0 249.2,1180.3 C263.5,1180.0 267.5,1179.0 267.5,1181.0 C267.5,1183.7 262.5,1184.6 249.2,1184.6 C236.0,1184.6 231.0,1183.7 231.0,1181.0 Z" fill="#665eb3" fill-opacity="0.35" filter="url(#g14)"/>
<path d="M229.5,1187.9 C229.5,1185.6 233.5,1186.6 248.2,1186.9 C262.9,1186.6 266.9,1185.6 266.9,1187.9 C266.9,1190.9 261.9,1191.8 248.2,1191.8 C234.5,1191.8 229.5,1190.9 229.5,1187.9 Z" fill="#665eb3" fill-opacity="0.85" filter="url(#g11)"/>
<path d="M230.0,1211.0 C230.0,1207.0 234.0,1208.0 247.5,1208.3 C261.0,1208.0 265.0,1207.0 265.0,1211.0 C265.0,1215.7 260.0,1216.6 247.5,1216.6 C235.0,1216.6 230.0,1215.7 230.0,1211.0 Z" fill="#665eb3" fill-opacity="0.16" filter="url(#g20)"/>
<path d="M229.5,1221.0 C229.5,1218.0 233.5,1219.0 247.2,1219.3 C261.0,1219.0 265.0,1218.0 265.0,1221.0 C265.0,1224.7 260.0,1225.6 247.2,1225.6 C234.5,1225.6 229.5,1224.7 229.5,1221.0 Z" fill="#665eb3" fill-opacity="0.22" filter="url(#g18)"/>
<path d="M228.4,1231.1 C228.4,1227.4 232.4,1228.4 247.1,1228.7 C261.8,1228.4 265.8,1227.4 265.8,1231.1 C265.8,1235.5 260.8,1236.4 247.1,1236.4 C233.4,1236.4 228.4,1235.5 228.4,1231.1 Z" fill="#665eb3" fill-opacity="1.0" filter="url(#g12)"/>
<path d="M230.2,1279.0 C230.2,1276.8 234.2,1277.8 246.2,1278.1 C258.2,1277.8 262.2,1276.8 262.2,1279.0 C262.2,1281.9 257.2,1282.8 246.2,1282.8 C235.2,1282.8 230.2,1281.9 230.2,1279.0 Z" fill="#665eb3" fill-opacity="0.5" filter="url(#g13)"/>
<path d="M230.5,1312.0 C230.5,1309.5 234.5,1310.5 244.2,1310.8 C254.0,1310.5 258.0,1309.5 258.0,1312.0 C258.0,1315.2 253.0,1316.1 244.2,1316.1 C235.5,1316.1 230.5,1315.2 230.5,1312.0 Z" fill="#665eb3" fill-opacity="0.15" filter="url(#g18)"/>
<path d="M328.3,1270 C330,1266.5 334,1265.6 340,1265.8 C348,1266.2 355,1267.6 362,1267.8 C372,1267.8 380,1269 384,1271.5 C381,1275 377,1279 370,1280.5 C362,1282.3 350,1281.5 342,1279.5 C336,1277.8 330,1273.5 328.3,1270 Z" fill="#9a92d0" fill-opacity="0.85" filter="url(#g16)"/>
<path d="M331.5,1271.5 C334,1270 342,1270.3 350,1271.3 C360,1272.5 370,1272.6 377,1273.2 C379,1274.5 377,1277.5 372,1279 C364,1281 352,1280.2 344,1278.2 C338,1276.8 333,1274 331.5,1271.5 Z" fill="#5c55ad" fill-opacity="1.0" filter="url(#g13)"/>
<rect x="338.0" y="1281.5" width="36.0" height="5.0" rx="2.5" fill="#8a84cc" fill-opacity="0.22" filter="url(#g18)"/>
<path d="M443.3,1271 C445,1267.5 452,1266 470,1266 C486,1266 494,1266.5 497.6,1270.5 C496,1274.5 488,1275.8 470,1275.8 C452,1275.8 446,1274.5 443.3,1271 Z" fill="#9d96d4" fill-opacity="0.85" filter="url(#g14)"/>
<path d="M447,1272.8 C450,1270.8 460,1271 472,1271 C486,1271 493,1271 494.5,1272.5 C493,1275 486,1275.6 472,1275.6 C458,1275.6 449,1275 447,1272.8 Z" fill="#6c64b8" fill-opacity="0.95" filter="url(#g11)"/>
<rect x="452.0" y="1278.7" width="40.0" height="3.6" rx="1.8" fill="#8a84cc" fill-opacity="0.18" filter="url(#g16)"/>
<path d="M506.8,1270 C510,1267 520,1267 532,1266.2 C545,1265.2 553,1264.6 556.4,1266.5 C555,1270 548,1271.5 532,1272.4 C518,1273.2 510,1273 506.8,1270 Z" fill="#a39cd6" fill-opacity="0.9" filter="url(#g14)"/>
<path d="M512,1270.8 C518,1269.8 528,1269.6 538,1268.8 C548,1268 553,1268 553.5,1268.8 C551,1270.8 544,1271.6 534,1272.2 C524,1272.8 515,1272.6 512,1270.8 Z" fill="#7a73c2" fill-opacity="0.8" filter="url(#g10)"/>
<rect x="511.8" y="1146.6" width="39.6" height="2.8" rx="1.4" fill="#665eb3" fill-opacity="0.22" filter="url(#g13)"/>
<rect x="512.0" y="1153.7" width="39.4" height="3.8" rx="1.9" fill="#665eb3" fill-opacity="0.1" filter="url(#g15)"/>
<text transform="translate(219.73,1095.40) scale(1.0422,1)" font-size="31.2" fill="#000">MW</text>
<text transform="translate(346.04,1095.40) scale(0.9577,1)" font-size="31" fill="#000">1</text>
<text transform="translate(445.94,1095.40) scale(0.9587,1)" font-size="31" fill="#000">1.1</text>
<text transform="translate(510.63,1095.40) scale(0.9598,1)" font-size="31" fill="#000">1.2</text>
<text transform="translate(153.91,1116.70) scale(0.8777,1)" font-size="28.5" fill="#000">kDa</text>
<text transform="translate(165.99,1168.50) scale(1.0066,1)" font-size="20" fill="#000">50</text>
<line x1="189.2" y1="1162.1" x2="211.8" y2="1162.1" stroke="#000" stroke-width="3.1"/>
<text transform="translate(166.03,1193.40) scale(1.0157,1)" font-size="20" fill="#000">37</text>
<line x1="189.2" y1="1189.3" x2="211.8" y2="1189.3" stroke="#000" stroke-width="3.1"/>
<text transform="translate(165.77,1238.20) scale(1.0196,1)" font-size="20" fill="#000">25</text>
<line x1="189.2" y1="1231.3" x2="211.8" y2="1231.3" stroke="#000" stroke-width="3.1"/>
<text transform="translate(165.78,1284.40) scale(1.0167,1)" font-size="20" fill="#000">20</text>
<line x1="189.2" y1="1279.9" x2="211.8" y2="1279.9" stroke="#000" stroke-width="3.1"/>
<rect x="933.7" y="1099.5" width="375.8" height="295.3" fill="#f1eff1"/>
<rect x="933.7" y="1098.6" width="375.8" height="1.8" fill="#a09088" opacity="0.8"/>
<rect x="934" y="1101.5" width="60" height="4" fill="#fff" opacity="0.5" filter="url(#g10)"/>
<rect x="944.5" y="1105.0" width="34.5" height="90.0" rx="4.0" fill="#c9c4e6" fill-opacity="0.3" filter="url(#g25)"/>
<path d="M945.0,1102.8 C945.0,1101.5 949.0,1102.5 962.0,1102.8 C975.0,1102.5 979.0,1101.5 979.0,1102.8 C979.0,1104.8 974.0,1105.7 962.0,1105.7 C950.0,1105.7 945.0,1104.8 945.0,1102.8 Z" fill="#665eb3" fill-opacity="0.25" filter="url(#g10)"/>
<path d="M945.0,1108.6 C945.0,1107.3 949.0,1108.3 962.0,1108.6 C975.0,1108.3 979.0,1107.3 979.0,1108.6 C979.0,1110.6 974.0,1111.5 962.0,1111.5 C950.0,1111.5 945.0,1110.6 945.0,1108.6 Z" fill="#665eb3" fill-opacity="0.28" filter="url(#g10)"/>
<path d="M945.0,1115.6 C945.0,1114.3 949.0,1115.3 962.0,1115.6 C975.0,1115.3 979.0,1114.3 979.0,1115.6 C979.0,1117.6 974.0,1118.5 962.0,1118.5 C950.0,1118.5 945.0,1117.6 945.0,1115.6 Z" fill="#665eb3" fill-opacity="0.22" filter="url(#g10)"/>
<path d="M944.8,1127.9 C944.8,1125.4 948.8,1126.4 961.8,1126.7 C974.7,1126.4 978.7,1125.4 978.7,1127.9 C978.7,1131.1 973.7,1132.0 961.8,1132.0 C949.8,1132.0 944.8,1131.1 944.8,1127.9 Z" fill="#665eb3" fill-opacity="0.9" filter="url(#g11)"/>
<path d="M945.0,1136.5 C945.0,1134.5 949.0,1135.5 961.5,1135.8 C974.0,1135.5 978.0,1134.5 978.0,1136.5 C978.0,1139.2 973.0,1140.1 961.5,1140.1 C950.0,1140.1 945.0,1139.2 945.0,1136.5 Z" fill="#665eb3" fill-opacity="0.15" filter="url(#g14)"/>
<path d="M944.8,1151.2 C944.8,1148.6 948.8,1149.6 961.1,1149.9 C973.5,1149.6 977.5,1148.6 977.5,1151.2 C977.5,1154.5 972.5,1155.4 961.1,1155.4 C949.8,1155.4 944.8,1154.5 944.8,1151.2 Z" fill="#665eb3" fill-opacity="0.9" filter="url(#g11)"/>
<path d="M945.0,1163.0 C945.0,1161.0 949.0,1162.0 961.0,1162.3 C973.0,1162.0 977.0,1161.0 977.0,1163.0 C977.0,1165.7 972.0,1166.6 961.0,1166.6 C950.0,1166.6 945.0,1165.7 945.0,1163.0 Z" fill="#665eb3" fill-opacity="0.28" filter="url(#g14)"/>
<path d="M945.0,1169.0 C945.0,1167.0 949.0,1168.0 961.0,1168.3 C973.0,1168.0 977.0,1167.0 977.0,1169.0 C977.0,1171.7 972.0,1172.6 961.0,1172.6 C950.0,1172.6 945.0,1171.7 945.0,1169.0 Z" fill="#665eb3" fill-opacity="0.3" filter="url(#g14)"/>
<path d="M944.3,1176.3 C944.3,1174.0 948.3,1175.0 960.0,1175.3 C971.8,1175.0 975.8,1174.0 975.8,1176.3 C975.8,1179.3 970.8,1180.2 960.0,1180.2 C949.3,1180.2 944.3,1179.3 944.3,1176.3 Z" fill="#665eb3" fill-opacity="0.85" filter="url(#g11)"/>
<path d="M944.0,1201.4 C944.0,1198.4 948.0,1199.4 959.5,1199.7 C971.0,1199.4 975.0,1198.4 975.0,1201.4 C975.0,1205.1 970.0,1206.0 959.5,1206.0 C949.0,1206.0 944.0,1205.1 944.0,1201.4 Z" fill="#665eb3" fill-opacity="0.15" filter="url(#g18)"/>
<path d="M944.0,1211.0 C944.0,1208.0 948.0,1209.0 959.5,1209.3 C971.0,1209.0 975.0,1208.0 975.0,1211.0 C975.0,1214.7 970.0,1215.6 959.5,1215.6 C949.0,1215.6 944.0,1214.7 944.0,1211.0 Z" fill="#665eb3" fill-opacity="0.16" filter="url(#g18)"/>
<path d="M942.5,1219.8 C942.5,1216.4 946.5,1217.4 958.5,1217.7 C970.6,1217.4 974.6,1216.4 974.6,1219.8 C974.6,1223.9 969.6,1224.8 958.5,1224.8 C947.5,1224.8 942.5,1223.9 942.5,1219.8 Z" fill="#665eb3" fill-opacity="1.0" filter="url(#g12)"/>
<path d="M943.7,1269.0 C943.7,1266.0 947.7,1267.0 958.0,1267.3 C968.3,1267.0 972.3,1266.0 972.3,1269.0 C972.3,1272.7 967.3,1273.6 958.0,1273.6 C948.7,1273.6 943.7,1272.7 943.7,1269.0 Z" fill="#665eb3" fill-opacity="0.32" filter="url(#g16)"/>
<path d="M945.0,1298.0 C945.0,1295.0 949.0,1296.0 957.5,1296.3 C966.0,1296.0 970.0,1295.0 970.0,1298.0 C970.0,1301.7 965.0,1302.6 957.5,1302.6 C950.0,1302.6 945.0,1301.7 945.0,1298.0 Z" fill="#665eb3" fill-opacity="0.1" filter="url(#g20)"/>
<path d="M1044,1236 L1082,1236 L1090,1257 L1036,1257 Z" fill="url(#smear)" filter="url(#g25)"/>
<path d="M1030.5,1259 C1031,1255 1046,1253.8 1062,1254 C1080,1253.8 1094,1255 1094.5,1259 C1094,1267 1081,1282.8 1062,1282.8 C1044,1282.8 1031,1267 1030.5,1259 Z" fill="url(#bgr2)" fill-opacity="1.0" filter="url(#g11)"/>
<rect x="1034.0" y="1254.5" width="57.0" height="3.0" rx="1.5" fill="#6e62b8" fill-opacity="0.6" filter="url(#g12)"/>
<rect x="1048.0" y="1287.0" width="32.0" height="4.0" rx="2.0" fill="#665eb3" fill-opacity="0.12" filter="url(#g18)"/>
<rect x="1043.8" y="1139.1" width="38.9" height="3.0" rx="1.5" fill="#665eb3" fill-opacity="0.36" filter="url(#g12)"/>
<rect x="1044.5" y="1146.9" width="37.8" height="3.0" rx="1.5" fill="#665eb3" fill-opacity="0.16" filter="url(#g14)"/>
<path d="M1149.2,1259.4 C1149.2,1257.0 1153.2,1257.6 1165.9,1257.9 C1178.6,1257.6 1182.6,1257.0 1182.6,1259.4 C1182.6,1262.2 1177.6,1263.0 1165.9,1263.0 C1154.2,1263.0 1149.2,1262.2 1149.2,1259.4 Z" fill="#8a82c8" fill-opacity="0.6" filter="url(#g13)"/>
<rect x="1150.0" y="1267.0" width="30.0" height="3.0" rx="1.5" fill="#665eb3" fill-opacity="0.06" filter="url(#g14)"/>
<path d="M1192.5,1259 C1196,1254 1208,1253.5 1219,1254.5 C1232,1253.5 1243,1254 1245.6,1259 C1243,1262 1232,1263 1219,1263 C1205,1263 1195,1262 1192.5,1259 Z" fill="#9088cc" fill-opacity="0.75" filter="url(#g18)"/>
<path d="M1192.6,1260.5 C1196,1257.5 1206,1258.5 1219,1260 C1232,1258.5 1242,1257.5 1245.2,1260.5 C1243,1266 1234,1272 1219,1272 C1205,1272 1196,1266 1192.6,1260.5 Z" fill="#5a55ab" fill-opacity="1.0" filter="url(#g12)"/>
<text transform="translate(933.28,1086.60) scale(1.0318,1)" font-size="31" fill="#000">MW</text>
<text transform="translate(1059.23,1086.80) scale(0.9418,1)" font-size="31" fill="#000">2</text>
<text transform="translate(1144.10,1086.80) scale(0.9620,1)" font-size="31" fill="#000">2.1</text>
<text transform="translate(1200.99,1086.80) scale(0.9681,1)" font-size="31" fill="#000">2.2</text>
<text transform="translate(870.51,1106.10) scale(0.8777,1)" font-size="28.5" fill="#000">kDa</text>
<text transform="translate(881.99,1156.90) scale(0.9915,1)" font-size="20.5" fill="#000">50</text>
<line x1="908.9" y1="1151.3" x2="931.8" y2="1151.3" stroke="#000" stroke-width="3.1"/>
<text transform="translate(882.02,1183.40) scale(1.0005,1)" font-size="20.5" fill="#000">37</text>
<line x1="908.9" y1="1176.2" x2="931.8" y2="1176.2" stroke="#000" stroke-width="3.1"/>
<text transform="translate(881.76,1227.80) scale(1.0043,1)" font-size="20.5" fill="#000">25</text>
<line x1="908.9" y1="1222.5" x2="931.8" y2="1222.5" stroke="#000" stroke-width="3.1"/>
<text transform="translate(881.77,1274.00) scale(1.0014,1)" font-size="20.5" fill="#000">20</text>
<line x1="908.9" y1="1268.0" x2="931.8" y2="1268.0" stroke="#000" stroke-width="3.1"/>
<text transform="translate(684.03,1469.60) scale(1.0205,1)" font-size="33.4" fill="#000">Anti-OBP</text>
<rect x="621.1" y="1494.5" width="283.8" height="5.8" fill="#000"/>
<text transform="translate(644.92,1543.30) scale(0.9638,1)" font-size="31" fill="#000">1.1</text>
<text transform="translate(717.42,1543.30) scale(0.9649,1)" font-size="31" fill="#000">1.2</text>
<text transform="translate(789.41,1543.30) scale(0.9570,1)" font-size="31" fill="#000">2.1</text>
<text transform="translate(854.38,1543.30) scale(0.9731,1)" font-size="31" fill="#000">2.2</text>
<rect x="617" y="1563.8" width="291.5" height="366" fill="#e2e2e3"/>
<text transform="translate(555.33,1622.40) scale(0.8545,1)" font-size="29" fill="#000">kDa</text>
<text transform="translate(566.50,1673.60) scale(0.9869,1)" font-size="20.3" fill="#000">50</text>
<line x1="594.0" y1="1668.1" x2="616.3" y2="1668.1" stroke="#000" stroke-width="3.1"/>
<text transform="translate(566.53,1699.70) scale(0.9959,1)" font-size="20.3" fill="#000">37</text>
<line x1="594.0" y1="1692.8" x2="616.3" y2="1692.8" stroke="#000" stroke-width="3.1"/>
<text transform="translate(566.28,1744.30) scale(0.9997,1)" font-size="20.3" fill="#000">25</text>
<line x1="594.0" y1="1739.1" x2="616.3" y2="1739.1" stroke="#000" stroke-width="3.1"/>
<text transform="translate(566.28,1790.60) scale(0.9968,1)" font-size="20.3" fill="#000">20</text>
<line x1="594.0" y1="1784.8" x2="616.3" y2="1784.8" stroke="#000" stroke-width="3.1"/>
<path d="M630.9,1785.5 C630.9,1774.0 635.9,1771.0 644.9,1771.0 C665.7,1770.0 665.7,1770.0 688.5,1773.0 C697.5,1773.0 700.5,1777.0 700.5,1787.75 C700.5,1798.5 697.5,1802.5 688.5,1802.5 C665.7,1803.5 665.7,1803.5 644.9,1800.0 C635.9,1800.0 630.9,1797.0 630.9,1785.5 Z" fill="#1f2224" fill-opacity="1.0" filter="url(#g16)"/>
<path d="M694.0,1788.0 C694.0,1779.5 699.0,1776.5 708.0,1776.5 C740.5,1775.5 740.5,1775.5 775.0,1777.5 C784.0,1777.5 787.0,1781.5 787.0,1788.75 C787.0,1796.0 784.0,1800.0 775.0,1800.0 C740.5,1801.0 740.5,1801.0 708.0,1799.5 C699.0,1799.5 694.0,1796.5 694.0,1788.0 Z" fill="#1f2224" fill-opacity="1.0" filter="url(#g16)"/>
<path d="M780.0,1787.0 C780.0,1778.0 785.0,1775.0 794.0,1775.0 C812.5,1774.0 812.5,1774.0 833.0,1776.5 C842.0,1776.5 845.0,1780.5 845.0,1788.0 C845.0,1795.5 842.0,1799.5 833.0,1799.5 C812.5,1800.5 812.5,1800.5 794.0,1799.0 C785.0,1799.0 780.0,1796.0 780.0,1787.0 Z" fill="#1f2224" fill-opacity="1.0" filter="url(#g16)"/>
<path d="M840.5,1789.05 C840.5,1781.6 845.5,1778.6 854.5,1778.6 C869.25,1777.6 869.25,1777.6 886.0,1779.5 C895.0,1779.5 898.0,1783.5 898.0,1791.0 C898.0,1798.5 895.0,1802.5 886.0,1802.5 C869.25,1803.5 869.25,1803.5 854.5,1799.5 C845.5,1799.5 840.5,1796.5 840.5,1789.05 Z" fill="#1f2224" fill-opacity="1.0" filter="url(#g16)"/>
<rect x="665.0" y="1801.5" width="35.0" height="5.0" rx="2.5" fill="#1f2224" fill-opacity="0.35" filter="url(#g25)"/>
<rect x="875.0" y="1802.0" width="22.0" height="4.0" rx="2.0" fill="#1f2224" fill-opacity="0.35" filter="url(#g20)"/>
</svg></body></html>
